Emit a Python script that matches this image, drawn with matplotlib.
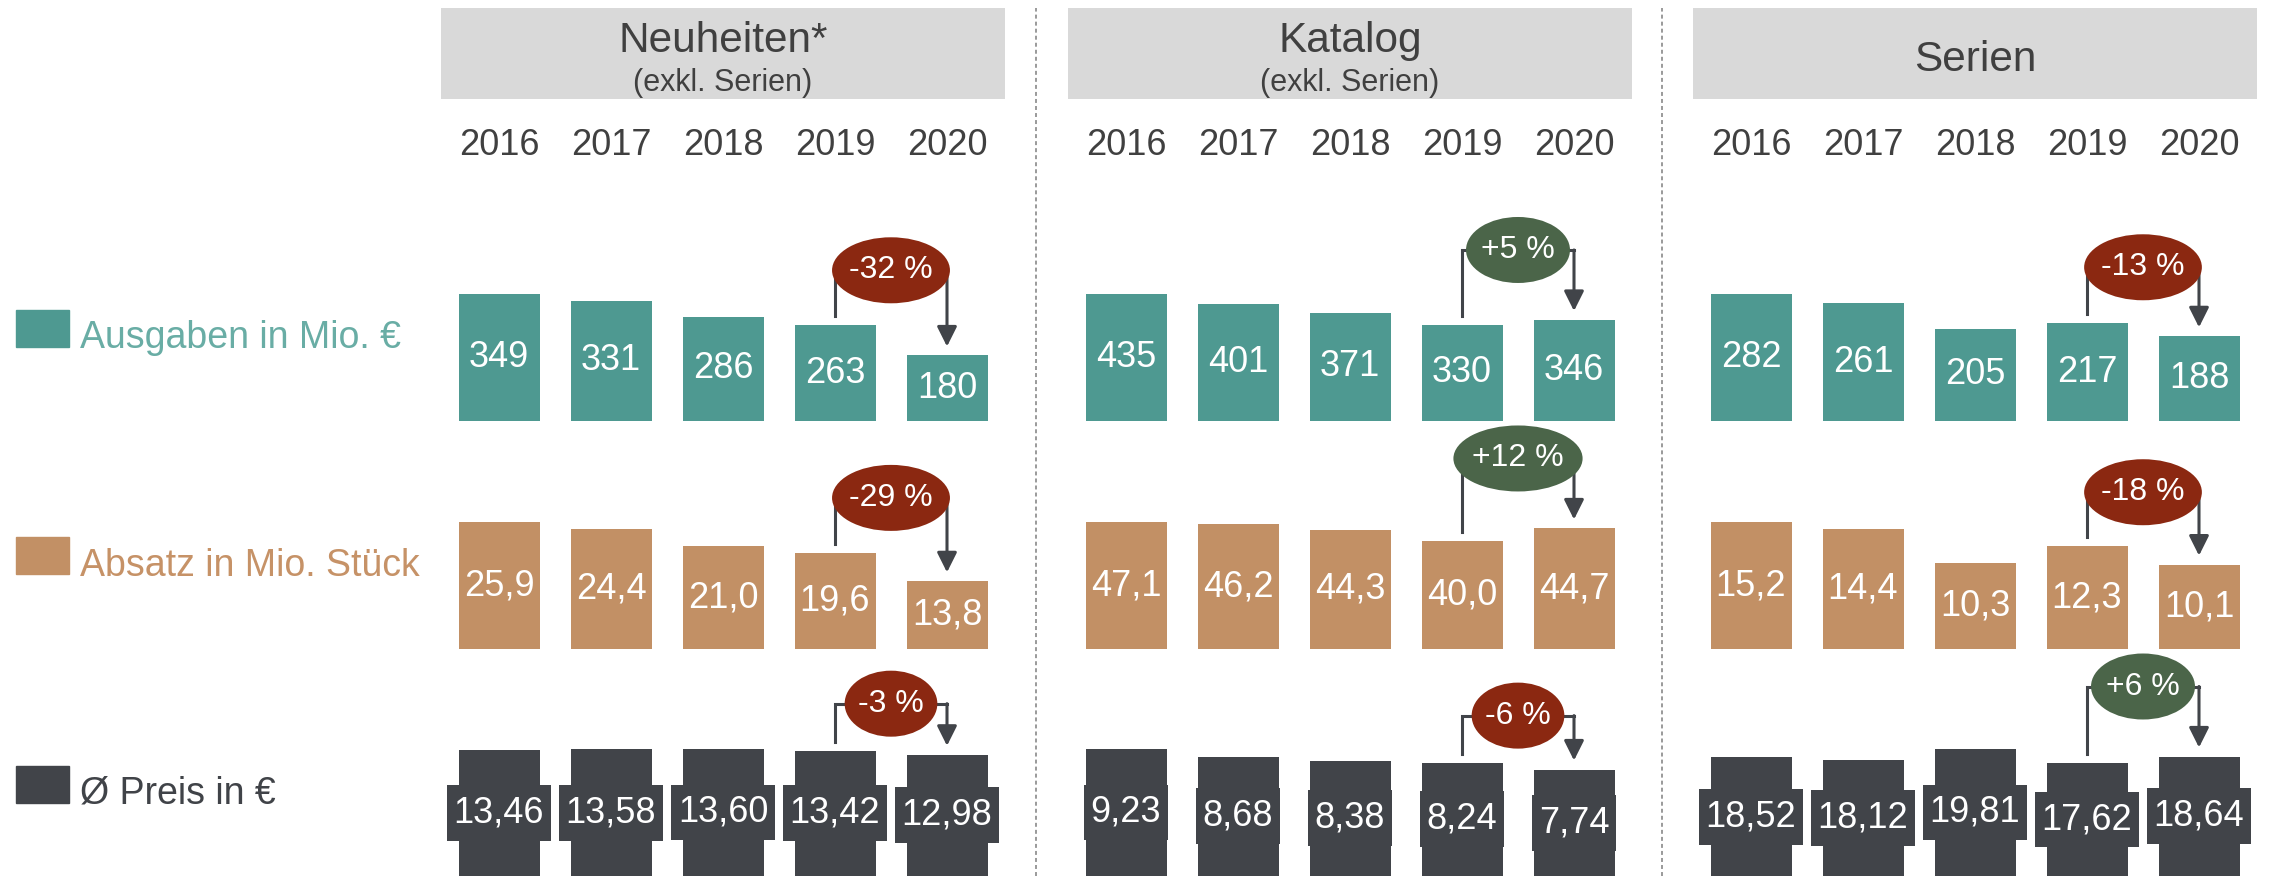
import matplotlib.pyplot as plt
from matplotlib import transforms
from matplotlib.lines import Line2D
from matplotlib.patches import Rectangle
from matplotlib.path import Path

plt.rcParams["font.family"] = ["Liberation Sans", "DejaVu Sans"]

# data
panels = ["Neuheiten*", "Katalog", "Serien"]
subtitles = ["(exkl. Serien)", "(exkl. Serien)", ""]
years = ["2016", "2017", "2018", "2019", "2020"]
row_labels = ["Ausgaben in Mio. €", "Absatz in Mio. Stück", "Ø Preis in €"]

ausgaben = [[349, 331, 286, 263, 180],
            [435, 401, 371, 330, 346],
            [282, 261, 205, 217, 188]]
absatz = [[25.9, 24.4, 21.0, 19.6, 13.8],
          [47.1, 46.2, 44.3, 40.0, 44.7],
          [15.2, 14.4, 10.3, 12.3, 10.1]]
preis = [[13.46, 13.58, 13.60, 13.42, 12.98],
         [9.23, 8.68, 8.38, 8.24, 7.74],
         [18.52, 18.12, 19.81, 17.62, 18.64]]

change_ausgaben = ["-32 %", "+5 %", "-13 %"]
change_absatz = ["-29 %", "+12 %", "-18 %"]
change_preis = ["-3 %", "-6 %", "+6 %"]

rows = [ausgaben, absatz, preis]
changes = [change_ausgaben, change_absatz, change_preis]
decimals = [0, 1, 2]

# style
bar_colors = ["#4e9991", "#c29065", "#414449"]
label_colors = ["#69ada5", "#c69267", "#404348"]
text_dark = "#404040"
red = "#8b2811"
green = "#4b6549"
header_gray = "#d9d9d9"

# layout in pixels
W, H = 2271, 876
panel_left = [441, 1068, 1693]
panel_w = 564
pitch = 112
bar_w = 81
row_bottom = [421, 649, 876]
row_top = [160, 421, 649]
bar_max_px = 127
gap_px = 9
badge_lift = [[55, 70, 56], [55, 70, 54], [47, 47, 70]]
legend_sq = [310, 537, 766]
legend_base = [348, 576, 804]

fig = plt.figure(figsize=(W / 100, H / 100), dpi=100)


def px_axes(left, top, width, height):
    return fig.add_axes([left / W, 1 - (top + height) / H, width / W, height / H])


def fmt(v, d):
    return f"{v:.{d}f}".replace(".", ",")


def badge_shape(x0, y0, width, height, mutation_size):
    # rounder ellipse than matplotlib's own "ellipse" box
    a = width / 2 * 1.41
    b = height / 2 * 2.2
    t = transforms.Affine2D().scale(a, b).translate(x0 + width / 2, y0 + height / 2)
    return t.transform_path(Path.unit_circle())


def label_box(x0, y0, width, height, mutation_size):
    # box behind the price labels
    px = mutation_size * 0.19
    py = mutation_size * 0.29
    return Path.unit_rectangle().transformed(
        transforms.Affine2D().scale(width + 2 * px, height + 2 * py)
        .translate(x0 - px, y0 - py))


# header boxes
for p in range(3):
    hax = px_axes(panel_left[p], 8, panel_w, 91)
    hax.set_facecolor(header_gray)
    hax.set_xticks([])
    hax.set_yticks([])
    for s in hax.spines.values():
        s.set_visible(False)
    cx = (panel_left[p] + panel_w / 2) / W
    if subtitles[p]:
        fig.text(cx, 1 - 52 / H, panels[p], ha="center", va="baseline",
                 fontsize=30.5, color=text_dark)
        fig.text(cx, 1 - 91 / H, subtitles[p], ha="center", va="baseline",
                 fontsize=22, color=text_dark)
    else:
        fig.text(cx, 1 - 71 / H, panels[p], ha="center", va="baseline",
                 fontsize=30.5, color=text_dark)

# divider lines
for x in [1036, 1662]:
    fig.add_artist(Line2D([x / W, x / W], [0, 1 - 8 / H], color="#7f7f7f",
                          lw=1.1, ls=(0, (2.6, 2))))

# legend on the left
for r in range(3):
    fig.add_artist(Rectangle((16 / W, 1 - (legend_sq[r] + 37) / H), 53 / W, 37 / H,
                             transform=fig.transFigure, color=bar_colors[r]))
    fig.text(80 / W, 1 - legend_base[r] / H, row_labels[r], ha="left",
             va="baseline", fontsize=27, color=label_colors[r])

# bars
half = panel_w / pitch / 2
for r in range(3):
    for p in range(3):
        vals = rows[r][p]
        k = max(vals) / bar_max_px
        ax = px_axes(panel_left[p], row_top[r], panel_w, row_bottom[r] - row_top[r])
        ax.set_xlim(2 - half, 2 + half)
        ax.set_ylim(0, (row_bottom[r] - row_top[r]) * k)
        ax.axis("off")
        ax.bar(range(5), vals, width=bar_w / pitch, color=bar_colors[r])

        for i, v in enumerate(vals):
            if r == 2:
                box = dict(boxstyle=label_box, fc=bar_colors[r], ec="none")
            else:
                box = None
            ax.text(i, v / 2, fmt(v, decimals[r]), ha="center", va="center",
                    fontsize=26, color="white", bbox=box)

        if r == 0:
            tr = transforms.blended_transform_factory(ax.transData, fig.transFigure)
            for i, y in enumerate(years):
                ax.text(i, 1 - 155 / H, y, transform=tr, ha="center",
                        va="baseline", fontsize=26, color=text_dark)

        # change badge between 2019 and 2020
        v4, v5 = vals[3], vals[4]
        yb = max(v4, v5) + badge_lift[r][p] * k
        ax.plot([3, 3, 4], [v4 + gap_px * k, yb, yb], color=bar_colors[2],
                lw=2.2, clip_on=False, solid_joinstyle="miter")
        ax.annotate("", xy=(4, v5 + gap_px * k), xytext=(4, yb),
                    arrowprops=dict(arrowstyle="-|>,head_length=0.6,head_width=0.3",
                                    mutation_scale=20, color=bar_colors[2], lw=2.2,
                                    shrinkA=0, shrinkB=0),
                    annotation_clip=False)
        label = changes[r][p]
        badge_color = green if label.startswith("+") else red
        ax.text(3.5, yb, label, ha="center", va="center", fontsize=23,
                color="white", zorder=5,
                bbox=dict(boxstyle=badge_shape, fc=badge_color, ec="none"))

fig.savefig("out.png", dpi=100)
